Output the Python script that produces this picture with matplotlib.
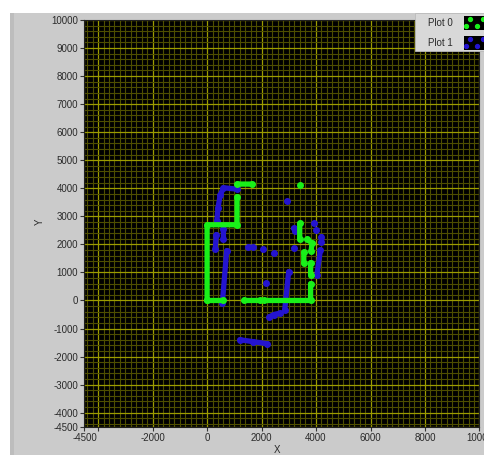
import numpy as np
import matplotlib
matplotlib.use("Agg")
import matplotlib.pyplot as plt
from matplotlib.patches import Rectangle
from matplotlib.ticker import FixedLocator, MultipleLocator, FuncFormatter

nan = np.nan

# Plot 0 (green): polyline segments separated by NaN, single points stand alone
plot0_x = [0, 0, 1100, 1100, nan,
           1100, 1650, nan,
           3400, nan,
           0, 600, nan,
           1350, 1950, nan,
           2100, 3800, 3800, nan,
           3800, 3800, nan,
           3550, 3550, nan,
           3400, 3400, nan,
           3670, 3850, 3820]
plot0_y = [0, 2700, 2700, 3700, nan,
           4150, 4150, nan,
           4110, nan,
           0, 0, nan,
           0, 0, nan,
           0, 0, 600, nan,
           920, 1350, nan,
           1350, 1720, nan,
           2200, 2750, nan,
           2190, 2040, 1760]

# Plot 1 (blue)
plot1_x = [1090, 600, 480, 400, 360, nan,
           340, 300, nan,
           600, 600, nan,
           720, 560, nan,
           1500, 1700, nan,
           2070, nan, 2440, nan, 2170, nan, 2935, nan, 3180, nan, 3920, nan, 3980, nan,
           3180, 3240, nan,
           4200, 4200, nan,
           4160, 4030, nan,
           2995, 2850, nan,
           2290, 2450, 2690, nan,
           1200, 1700, 2200]
plot1_y = [3970, 4020, 3750, 3300, 2850, nan,
           2350, 1850, nan,
           2200, 2550, nan,
           1780, -100, nan,
           1900, 1900, nan,
           1830, nan, 1690, nan, 640, nan, 3560, nan, 1880, nan, 2760, nan, 2520, nan,
           2580, 2460, nan,
           2280, 2100, nan,
           1800, 900, nan,
           1030, -330, nan,
           -580, -500, -450, nan,
           -1400, -1470, -1540]

x_ticks = [-4500, -4000, -2000, 0, 2000, 4000, 6000, 8000, 10000]
x_labeled = [-4500, -2000, 0, 2000, 4000, 6000, 8000, 10000]
y_ticks = [-4500, -4000, -3000, -2000, -1000, 0, 1000, 2000, 3000, 4000,
           5000, 6000, 7000, 8000, 9000, 10000]
series_names = ["Plot 0", "Plot 1"]
series_colors = ["#19f019", "#2414d0"]

plt.rcParams['font.family'] = ['Liberation Sans', 'DejaVu Sans']

W, H = 485, 455
fig = plt.figure(figsize=(W / 100, H / 100), dpi=100)
fig.patch.set_facecolor("white")

def fx(px):
    return px / W

def fy(py):
    return 1 - py / H

# gray panel
fig.patches.append(Rectangle((fx(10), 0), 1, fy(13), transform=fig.transFigure,
                             facecolor="#cbcbcb", edgecolor="none", zorder=-5))
fig.patches.append(Rectangle((fx(10), 0), fx(4), fy(13), transform=fig.transFigure,
                             facecolor="#bdbdbd", edgecolor="none", zorder=-4))

ax = fig.add_axes([fx(84.5), fy(426.7), fx(479.5) - fx(84.5), fy(20) - fy(426.7)])
ax.set_facecolor("black")
ax.set_xlim(-4500, 10000)
ax.set_ylim(-4500, 10000)

ax.xaxis.set_major_locator(FixedLocator(x_ticks))
ax.xaxis.set_major_formatter(FuncFormatter(lambda v, p: f"{int(v)}" if int(v) in x_labeled else ""))
ax.yaxis.set_major_locator(FixedLocator(y_ticks))
ax.yaxis.set_major_formatter(FuncFormatter(lambda v, p: f"{int(v)}"))
ax.xaxis.set_minor_locator(MultipleLocator(200))
ax.yaxis.set_minor_locator(MultipleLocator(200))
ax.tick_params(which="minor", length=0)
ax.tick_params(which="major", length=3, width=0.8, color="#333333",
               labelsize=7, labelcolor="#2a2a2a", pad=1.5)
ax.grid(which="minor", color="#4e4e00", linewidth=0.8)
ax.grid(which="major", color="#9c9c00", linewidth=0.9)
ax.set_axisbelow(True)
for s in ax.spines.values():
    s.set_color("#202020")
    s.set_linewidth(0.8)

ax.plot(plot1_x, plot1_y, color=series_colors[1], lw=3.8, marker="o", ms=4.0,
        solid_capstyle="round", zorder=3)
ax.plot(plot0_x, plot0_y, color=series_colors[0], lw=3.8, marker="o", ms=4.0,
        solid_capstyle="round", zorder=4)

fig.text(fx(40), fy(222), "Y", rotation=90, fontsize=7, color="#2a2a2a",
         ha="center", va="center")
fig.text(fx(277), fy(450), "X", fontsize=7, color="#2a2a2a", ha="center", va="center")

# legend
fig.patches.append(Rectangle((fx(415), fy(51)), fx(70), fy(13) - fy(51),
                             transform=fig.transFigure, facecolor="#d8d8d8",
                             edgecolor="#bbbbbb", linewidth=0.6, zorder=5))
for i, (name, col) in enumerate(zip(series_names, series_colors)):
    ytop = 16 + i * 20
    fig.text(fx(428), fy(ytop + 7), name, fontsize=7, color="#2a2a2a",
             ha="left", va="center", zorder=6)
    sw = fig.add_axes([fx(464), fy(ytop + 14), fx(21), fy(ytop) - fy(ytop + 14)])
    sw.set_zorder(10)
    sw.set_facecolor("black")
    sw.set_xlim(0, 1)
    sw.set_ylim(0, 1)
    sw.set_xticks([])
    sw.set_yticks([])
    for s in sw.spines.values():
        s.set_visible(False)
    sw.plot([0.3, 0.08, 0.6, 0.92], [0.82, 0.3, 0.3, 0.82], linestyle="none",
            marker="o", ms=2.8, color=col)

fig.savefig("out.png", dpi=100, facecolor=fig.get_facecolor())
